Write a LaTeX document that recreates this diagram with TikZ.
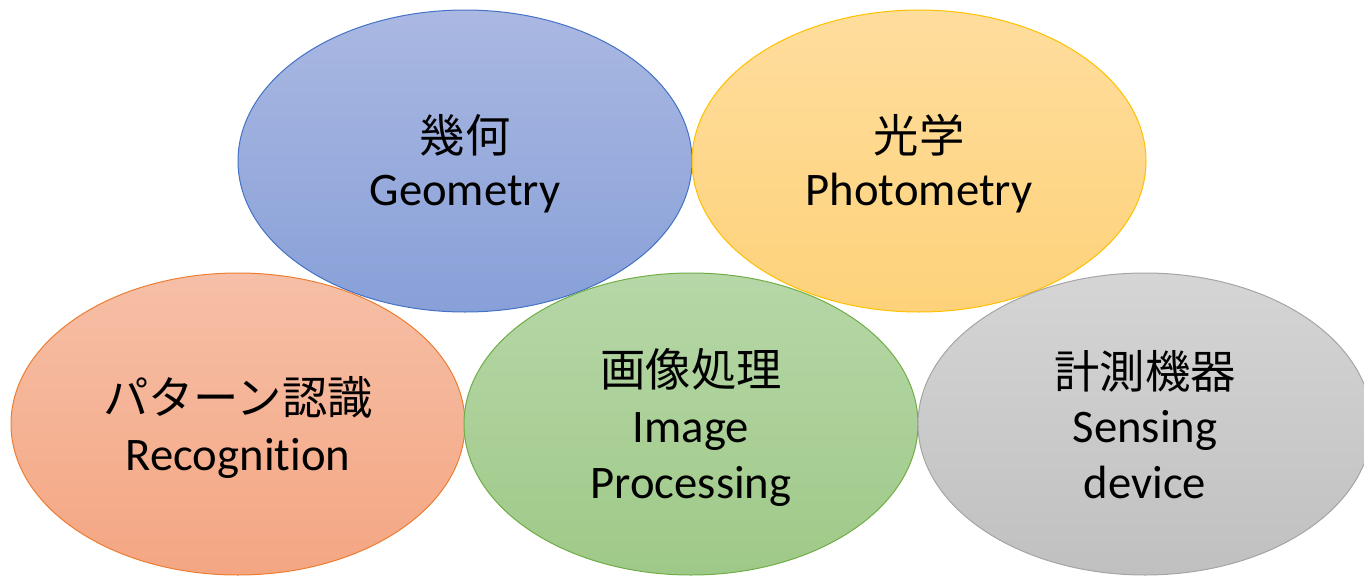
\documentclass[tikz,border=0pt]{standalone}
\usepackage{fontspec}
\setmainfont{Carlito}[RawFeature={-liga;-clig;-dlig;-calt}]
\newfontfamily\jp{Noto Sans CJK JP}
\usetikzlibrary{shapes.geometric}
\definecolor{blueTop}{RGB}{170,184,226}
\definecolor{blueBot}{RGB}{136,160,216}
\definecolor{blueEdge}{RGB}{68,114,196}
\definecolor{yelTop}{RGB}{254,221,157}
\definecolor{yelBot}{RGB}{254,210,122}
\definecolor{yelEdge}{RGB}{255,192,0}
\definecolor{oraTop}{RGB}{246,191,167}
\definecolor{oraBot}{RGB}{244,166,130}
\definecolor{oraEdge}{RGB}{237,125,49}
\definecolor{grnTop}{RGB}{182,215,167}
\definecolor{grnBot}{RGB}{159,201,136}
\definecolor{grnEdge}{RGB}{112,173,71}
\definecolor{gryTop}{RGB}{213,213,213}
\definecolor{gryBot}{RGB}{192,192,192}
\definecolor{gryEdge}{RGB}{165,165,165}
\begin{document}
\begin{tikzpicture}[x=0.75pt,y=-0.75pt,
  oval/.style={ellipse, minimum width=340.5pt, minimum height=226.5pt, inner sep=0pt, line width=0.75pt},
  jplab/.style={anchor=base, font=\jp\fontsize{34}{40}\selectfont, inner sep=0pt},
  enlab/.style={anchor=base, font=\fontsize{35}{42}\selectfont, inner sep=0pt}]
\clip (0,0) rectangle (1364,575);
\node[oval, draw=blueEdge, top color=blueTop, bottom color=blueBot] (geo) at (465,161) {};
\node[oval, draw=yelEdge, top color=yelTop, bottom color=yelBot] (pho) at (919,161) {};
\node[oval, draw=oraEdge, top color=oraTop, bottom color=oraBot] (rec) at (238,424) {};
\node[oval, draw=grnEdge, top color=grnTop, bottom color=grnBot] (img) at (691,424) {};
\node[oval, draw=gryEdge, top color=gryTop, bottom color=gryBot] (sen) at (1145,424) {};
\node[jplab] (geoJ) at (465,152) {幾何};
\node[enlab] (geoE) at (465,205) {Geometry};
\node[jplab] (phoJ) at (919,152) {光学};
\node[enlab] (phoE) at (919,205) {Photometry};
\node[jplab] (recJ) at (238,414) {パターン認識};
\node[enlab] (recE) at (238,470) {Recognit\kern0pt ion};
\node[jplab] (imgJ) at (691,386) {画像処理};
\node[enlab] (imgE1) at (691,442) {Image};
\node[enlab] (imgE2) at (691,498) {Processing};
\node[jplab] (senJ) at (1145,388) {計測機器};
\node[enlab] (senE1) at (1145,442) {Sensing};
\node[enlab] (senE2) at (1145,498) {device};
\end{tikzpicture}
\end{document}
